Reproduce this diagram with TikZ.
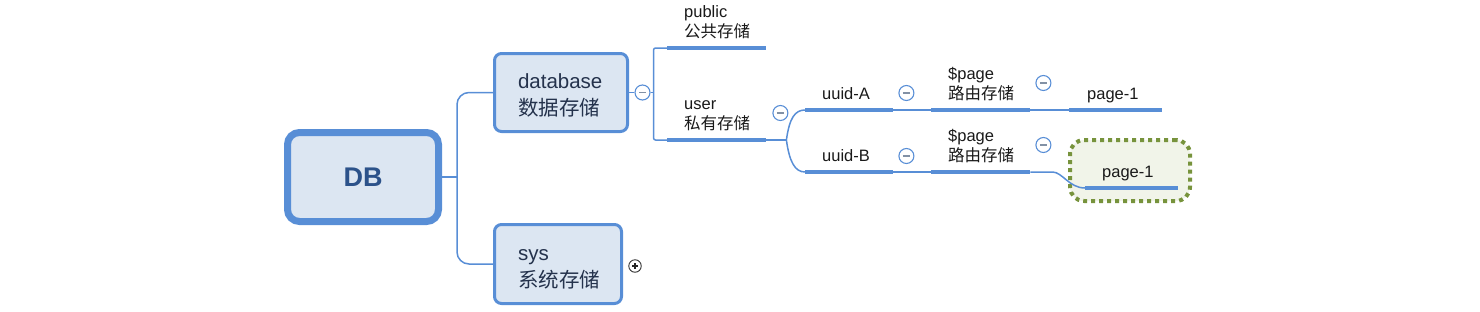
\documentclass[tikz,border=0pt]{standalone}
\usepackage{fontspec}
\setmainfont{Liberation Sans}
\newfontfamily\cjk{Noto Sans CJK SC}
\usetikzlibrary{calc}
\definecolor{lineblue}{RGB}{88,142,214}
\definecolor{boxfill}{RGB}{220,230,242}
\definecolor{dbtext}{RGB}{44,82,138}
\definecolor{boxtext}{RGB}{36,50,76}
\definecolor{labeltext}{RGB}{25,25,25}
\definecolor{olivegreen}{RGB}{119,147,60}
\definecolor{olivefill}{RGB}{241,244,233}
\definecolor{minusgray}{RGB}{130,145,165}
\begin{document}
\begin{tikzpicture}[x=1pt,y=-1pt,
  conn/.style={draw=lineblue,line width=1.5pt},
  uline/.style={draw=lineblue,line width=4pt},
  dbbox/.style={draw=lineblue,fill=boxfill,line width=7pt,rounded corners=12pt,
    minimum width=151pt,minimum height=89pt,inner sep=0pt,text=dbtext,
    font=\fontsize{27}{30}\selectfont\bfseries},
  topicbox/.style={draw=lineblue,fill=boxfill,line width=3pt,rounded corners=7pt,
    inner xsep=23.5pt,inner ysep=0pt,text=boxtext,align=left,text height=21pt,
    font=\fontsize{20.5}{27}\selectfont},
  lbl/.style={anchor=south west,inner xsep=17pt,inner ysep=9pt,
    align=left,text=labeltext,font=\fontsize{16.5}{20}\selectfont},
  onelbl/.style={lbl,inner ysep=10.5pt,text depth=0pt},
  collapse/.style={circle,draw=lineblue,line width=1.1pt,fill=white,minimum size=15pt,inner sep=0pt,
    path picture={\draw[minusgray,line width=1.3pt] ($(path picture bounding box.center)+(-3.5,0)$) -- ++(7,0);}},
  expand/.style={circle,draw=black!80,line width=0.9pt,fill=white,minimum size=12.5pt,inner sep=0pt,
    path picture={\draw[black!85,line width=1.1pt] ($(path picture bounding box.center)+(-3,0)$) -- ++(6,0)
      ($(path picture bounding box.center)+(0,-3)$) -- ++(0,6);}},
  highlight/.style={draw=olivegreen,fill=olivefill,line width=4pt,dash pattern=on 4pt off 4pt,
    rounded corners=14pt,minimum width=120pt,minimum height=61pt,inner sep=0pt}
]
\useasboundingbox (0,0) rectangle (1480,311);

% highlight behind the selected topic
\node[highlight] (hl) at (1130,170.5) {};

% main topics
\node[dbbox] (DB) at (363,177) {DB};
\node[topicbox,minimum width=133pt,minimum height=78pt,text width=86pt] (dbase) at (561,92.5)
  {database\\{\cjk 数据存储}};
\node[topicbox,minimum width=127pt,minimum height=79pt,text width=80pt] (sys) at (558,264)
  {sys\\{\cjk 系统存储}};

% labels with underlines
\node[lbl,text width=65pt] (pub) at (667,48) {public\\{\cjk 公共存储}};
\node[lbl,text width=65pt] (usr) at (667,140) {user\\{\cjk 私有存储}};
\node[onelbl,text width=54pt] (uA) at (805,110) {uuid-A};
\node[lbl,text width=65pt] (pA) at (931,110) {\$page\\{\cjk 路由存储}};
\node[onelbl,text width=57pt,inner xsep=18pt] (gA) at (1069,110) {page-1};
\node[onelbl,text width=54pt] (uB) at (805,172) {uuid-B};
\node[lbl,text width=65pt] (pB) at (931,172) {\$page\\{\cjk 路由存储}};
\node[onelbl,text width=59pt] (gB) at (1085,188) {page-1};

\foreach \n in {pub,usr,uA,pA,gA,uB,pB,gB}
  \draw[uline] (\n.south west) -- (\n.south east);

% collapse / expand buttons
\node[collapse] (cDb) at ($(dbase.east)+(13.5,0)$) {};
\node[expand] (cSys) at ($(sys.east)+(12,2)$) {};
\node[collapse] (cUsr) at ($(usr.south east)+(14,-27)$) {};
\node[collapse] (cuA) at ($(uA.south east)+(13,-17)$) {};
\node[collapse] (cpA) at ($(pA.south east)+(13,-27)$) {};
\node[collapse] (cuB) at ($(uB.south east)+(13,-16)$) {};
\node[collapse] (cpB) at ($(pB.south east)+(13,-27)$) {};

% connectors
\coordinate (trunk) at ($(DB.east)+(15,0)$);
\draw[conn] (DB.east) -- (trunk);
\draw[conn,rounded corners=12pt] (dbase.west) -| (trunk) |- (sys.west);

\coordinate (br) at ($(cDb.east)+(3,0)$);
\draw[conn] (dbase.east) -- (cDb.west);
\draw[conn] (cDb.east) -- (br);
\draw[conn,rounded corners=2pt] (pub.south west) -| (br) |- (usr.south west);

\coordinate (uj) at ($(usr.south east)+(20,0)$);
\draw[conn] (usr.south east) -- (uj);
\draw[conn] (uj) .. controls +(3,-22) and +(-10,0) .. (uA.south west);
\draw[conn] (uj) .. controls +(3,22) and +(-10,0) .. (uB.south west);

\draw[conn] (uA.south east) -- (pA.south west);
\draw[conn] (pA.south east) -- (gA.south west);
\draw[conn] (uB.south east) -- (pB.south west);
\coordinate (gj) at ($(pB.south east)+(22,0)$);
\draw[conn] (pB.south east) -- (gj) .. controls +(10,0) and +(-16,0) .. (gB.south west);
\end{tikzpicture}
\end{document}
